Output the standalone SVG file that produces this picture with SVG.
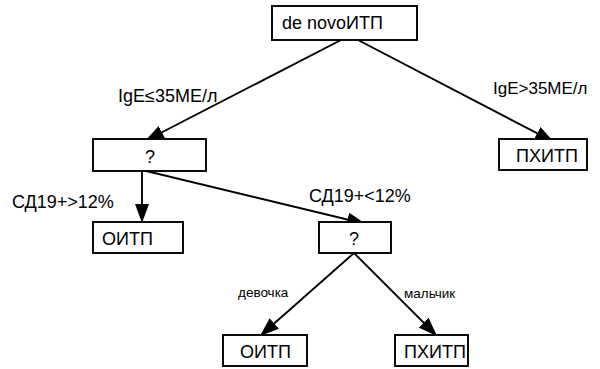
<svg xmlns="http://www.w3.org/2000/svg" width="600" height="369" viewBox="0 0 600 369">
<style>
.box{fill:#fff;stroke:#000;stroke-width:1.9}
.t{font-family:"Liberation Sans",Arial,sans-serif;font-size:18px;fill:#000}
.lbl{font-family:"Liberation Sans",Arial,sans-serif;font-size:18px;fill:#000}
.sm{font-family:"Liberation Sans",Arial,sans-serif;font-size:13.5px;fill:#000}
.c{stroke:#000;stroke-width:1.9;fill:none;marker-end:url(#ah)}
</style>
<defs>
<marker id="ah" markerUnits="userSpaceOnUse" markerWidth="19" markerHeight="14" refX="19" refY="7" orient="auto">
<path d="M0,0 L19,7 L0,14 z" fill="#000"/>
</marker>
</defs>
<g id="connectors">
<path class="c" d="M341,40 L145,141"/>
<path class="c" d="M358,40 L554,142"/>
<path class="c" d="M142,171 L142,223"/>
<path class="c" d="M142,170 L366,224"/>
<path class="c" d="M354,253 L260,336"/>
<path class="c" d="M354,253 L437,336"/>
</g>
<g id="labels">
<text class="lbl" x="118" y="102">IgE≤35МЕ/л</text>
<text class="lbl" x="493" y="94" style="font-size:17px">IgE&gt;35МЕ/л</text>
<text class="lbl" x="12" y="208">СД19+&gt;12%</text>
<text class="lbl" x="309" y="202">СД19+&lt;12%</text>
<text class="sm" x="238" y="297">девочка</text>
<text class="sm" x="404" y="298">мальчик</text>
</g>
<g id="root">
<rect class="box" x="272" y="6" width="145" height="34"/>
<text class="t" x="282" y="29">de novoИТП</text>
</g>
<g id="q1">
<rect class="box" x="93" y="139" width="113" height="32"/>
<text class="t" x="150" y="163" text-anchor="middle">?</text>
</g>
<g id="pxitp1">
<rect class="box" x="499" y="139" width="88" height="31"/>
<text class="t" x="516" y="162">ПХИТП</text>
</g>
<g id="oitp1">
<rect class="box" x="93" y="222" width="90" height="31"/>
<text class="t" x="102" y="245">ОИТП</text>
</g>
<g id="q2">
<rect class="box" x="319" y="222" width="72" height="31"/>
<text class="t" x="354" y="245" text-anchor="middle">?</text>
</g>
<g id="oitp2">
<rect class="box" x="223" y="335" width="84" height="31"/>
<text class="t" x="240" y="358">ОИТП</text>
</g>
<g id="pxitp2">
<rect class="box" x="395" y="335" width="73" height="31"/>
<text class="t" x="404" y="358">ПХИТП</text>
</g>
</svg>
